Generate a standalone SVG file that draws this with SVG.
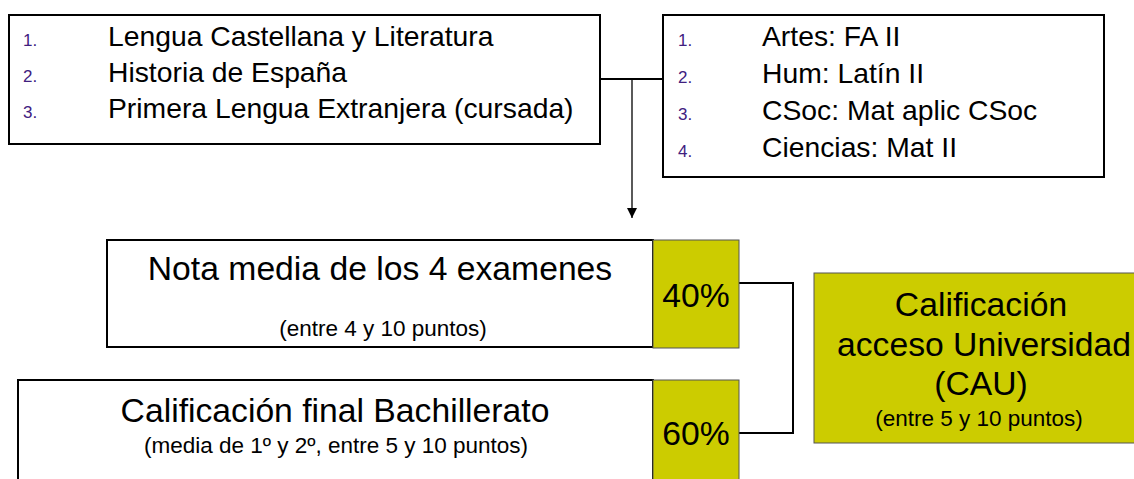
<svg xmlns="http://www.w3.org/2000/svg" width="1134" height="479" viewBox="0 0 1134 479">
<defs>
<style>
text{font-family:"Liberation Sans",Arial,sans-serif;fill:#000}
.box{fill:#fff;stroke:#000;stroke-width:2}
.pct{fill:#CCCC00;stroke:#555;stroke-width:1}
.num{font-size:17px;fill:#40207F}
.item{font-size:28.3px}
.big{font-size:33.7px}
.sub{font-size:22.5px}
.conn{fill:none;stroke:#000;stroke-width:2}
.arr{fill:none;stroke:#000;stroke-width:1.3}
</style>
<marker id="ah" viewBox="0 0 10 10" refX="10" refY="5" markerWidth="10" markerHeight="10" markerUnits="userSpaceOnUse" orient="auto">
<path d="M0,0 L10,5 L0,10 Z" fill="#000"/>
</marker>
</defs>
<rect width="1134" height="479" fill="#fff"/>
<g id="connectors">
<path class="conn" d="M600,79 H663"/>
<path class="arr" d="M632,79 V218" marker-end="url(#ah)"/>
<path class="conn" d="M739,283 H793 V433 H739"/>
</g>
<g id="comunes">
<rect class="box" x="9" y="15" width="591" height="129"/>
<text class="num" x="23" y="46">1.</text>
<text class="num" x="23" y="82">2.</text>
<text class="num" x="23" y="118">3.</text>
<text class="item" x="108" y="46">Lengua Castellana y Literatura</text>
<text class="item" x="108" y="82">Historia de España</text>
<text class="item" x="108" y="118">Primera Lengua Extranjera (cursada)</text>
</g>
<g id="modalidad">
<rect class="box" x="663" y="15" width="441" height="162"/>
<text class="num" x="678" y="46">1.</text>
<text class="num" x="678" y="83">2.</text>
<text class="num" x="678" y="120">3.</text>
<text class="num" x="678" y="157">4.</text>
<text class="item" x="762" y="46">Artes: FA II</text>
<text class="item" x="762" y="83">Hum: Latín II</text>
<text class="item" x="762" y="120">CSoc: Mat aplic CSoc</text>
<text class="item" x="762" y="157">Ciencias: Mat II</text>
</g>
<g id="nota-media">
<rect class="box" x="107" y="240" width="546" height="107"/>
<rect class="pct" x="653" y="240" width="86" height="108"/>
<text class="big" x="380" y="280" text-anchor="middle">Nota media de los 4 examenes</text>
<text class="sub" x="383" y="336" text-anchor="middle">(entre 4 y 10 puntos)</text>
<text class="big" x="696" y="307" text-anchor="middle">40%</text>
</g>
<g id="bachillerato">
<rect class="box" x="18" y="380" width="635" height="110"/>
<rect class="pct" x="653" y="380" width="86" height="110"/>
<text class="big" x="335" y="422" text-anchor="middle">Calificación final Bachillerato</text>
<text class="sub" x="336" y="453" text-anchor="middle">(media de 1º y 2º, entre 5 y 10 puntos)</text>
<text class="big" x="696" y="445" text-anchor="middle">60%</text>
</g>
<g id="cau">
<rect class="pct" x="814" y="273" width="330" height="170"/>
<text class="big" x="981" y="316" text-anchor="middle">Calificación</text>
<text class="big" x="984" y="356" text-anchor="middle">acceso Universidad</text>
<text class="big" x="981" y="395" text-anchor="middle">(CAU)</text>
<text class="sub" x="979" y="426" text-anchor="middle">(entre 5 y 10 puntos)</text>
</g>
</svg>
